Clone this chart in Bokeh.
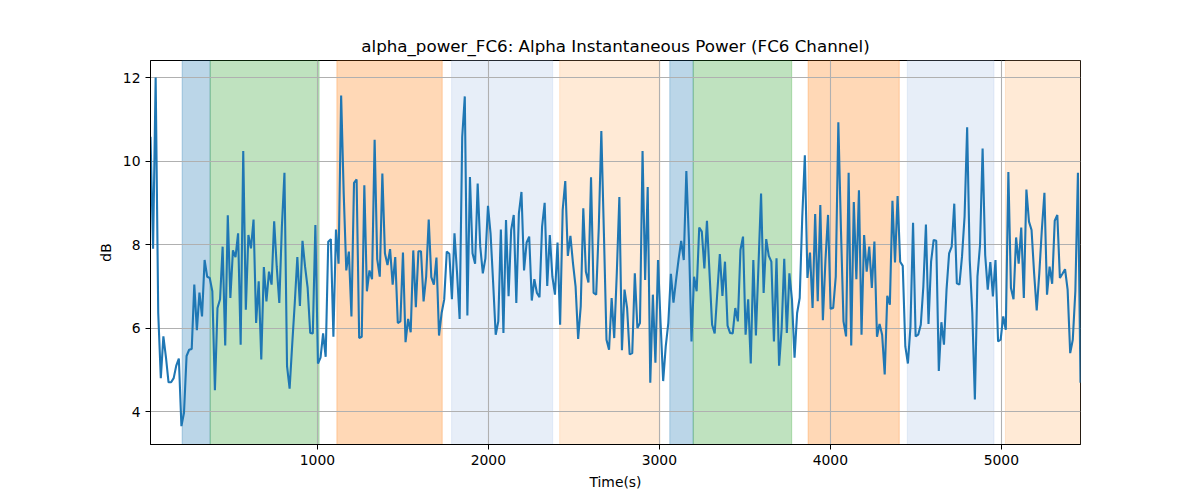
from bokeh.plotting import figure
from bokeh.models import BoxAnnotation, Range1d, ColumnDataSource, FixedTicker
from bokeh.embed import file_html
from bokeh.resources import INLINE
import numpy as np

# ---------------- data ----------------
t_first = 24.0
t_last = 5463.0

power_db = [
    10.58, 7.9, 12.0, 6.36, 4.8, 5.8, 5.3, 4.7, 4.7, 4.8, 5.1, 5.27, 3.65, 3.97, 5.33, 5.48, 5.5, 7.04, 5.95, 6.85,
    6.28, 7.63, 7.23, 7.2, 6.88, 4.51, 6.48, 6.69, 7.95, 5.58, 8.7, 6.72, 7.86, 7.7, 8.27, 5.6, 10.24, 6.44, 8.23, 7.91,
    8.6, 6.12, 7.12, 5.25, 7.46,
    6.64, 7.35, 7.04, 8.56, 7.47, 6.6, 8.43, 9.72, 5.09, 4.55, 5.6, 6.6, 7.7, 6.53, 8.09, 7.47, 6.96, 5.88, 5.87, 8.47,
    5.15, 5.29, 5.87, 5.31, 8.07, 8.13, 5.79, 8.36, 7.54, 11.57, 9.22, 7.38, 7.83, 6.28, 9.48, 9.56, 5.76, 5.79, 9.42,
    6.88, 7.38, 7.17, 10.51, 7.65, 7.23, 9.7, 7.79, 7.51,
    7.89, 7.04, 7.7, 6.12, 6.16, 7.81, 5.66, 6.22, 5.9, 7.86, 6.5, 7.84, 7.84, 6.64, 7.23, 8.6, 7.22, 7.04, 7.69, 5.82,
    6.36, 6.68, 7.83, 7.78, 6.69, 8.27, 7.31, 6.22, 10.58, 11.55, 6.3, 9.62, 7.79, 7.54, 9.46, 7.95, 7.31, 7.67, 8.93,
    8.27, 7.09, 5.84, 6.16, 8.36, 5.88, 8.59,
    6.76, 8.35, 8.71, 6.6, 8.75, 9.26, 7.38, 8.05, 8.19, 6.66, 7.17, 6.84, 6.74, 8.43, 9.0, 7.01, 8.23, 7.23, 6.8, 8.05,
    6.08, 8.83, 9.52, 7.73, 8.21, 7.55, 7.0, 5.74, 6.52, 8.87, 7.35, 7.09, 9.61, 6.84, 6.8, 8.39, 10.72, 8.27, 5.72,
    5.48, 6.72, 5.76, 7.31, 9.14, 5.47, 6.92, 6.48,
    5.37, 5.4, 7.31, 6.0, 6.12, 10.24, 7.15, 9.38, 4.69, 6.8, 5.17, 7.63, 6.12, 4.73, 5.56, 6.12, 7.3, 6.61, 7.15, 7.65,
    8.09, 7.63, 9.76, 8.11, 5.68, 7.23, 6.88, 8.41, 8.31, 7.43, 8.57, 7.31, 6.08, 5.87, 6.84, 7.77, 6.77, 7.59, 6.06,
    5.88, 5.87, 6.48, 6.16, 7.87, 8.19,
    5.84, 6.69, 5.15, 7.63, 5.82, 7.5, 9.22, 6.84, 8.13, 7.73, 7.59, 5.68, 7.67, 5.1, 6.0, 7.66, 5.88, 7.31, 6.68, 5.29,
    6.36, 6.72, 8.67, 10.14, 7.2, 7.81, 6.48, 8.73, 6.64, 8.95, 6.19, 7.63, 8.71, 6.46, 6.48, 7.23, 10.93, 8.39, 6.16,
    5.8, 9.72, 5.58, 9.02, 7.17,
    9.3, 5.84, 8.23, 7.35, 7.95, 6.96, 8.07, 5.79, 6.1, 5.84, 4.89, 6.77, 6.56, 9.05, 7.57, 9.16, 7.59, 7.49, 5.56, 5.15,
    6.04, 8.52, 5.8, 5.84, 6.08, 7.0, 8.48, 6.1, 7.59, 8.11, 8.09, 4.97, 6.14, 5.6, 6.92, 7.79, 7.95, 8.98, 7.07, 7.04,
    7.71, 8.67, 10.81, 7.63, 6.36,
    4.29, 7.23, 7.99, 10.3, 7.75, 6.92, 7.58, 6.76, 7.63, 5.68, 5.72, 6.28, 5.96, 9.74, 6.96, 6.69, 8.17, 7.54, 8.41,
    6.72, 9.32, 8.55, 8.35, 7.31, 6.42, 7.31, 8.36, 9.24, 6.8, 7.47, 7.06, 8.57, 8.71, 7.2, 7.3, 7.41, 6.92, 5.4, 5.72,
    6.88, 9.72, 4.69,
]
time_s = np.linspace(t_first, t_last, len(power_db))

span_starts = [209, 373, 1114, 1785, 2417, 3061, 3198, 3870, 4450, 5024]
span_ends = [373, 1010, 1730, 2376, 3003, 3198, 3774, 4403, 4957, 5500]
span_colors = ["#1f77b4", "#2ca02c", "#ff7f0e", "#aec7e8", "#ffbb78",
               "#1f77b4", "#2ca02c", "#ff7f0e", "#aec7e8", "#ffbb78"]

x_ticks = [1000, 2000, 3000, 4000, 5000]
y_ticks = [4, 6, 8, 10, 12]

title_text = "alpha_power_FC6: Alpha Instantaneous Power (FC6 Channel)"
x_label = "Time(s)"
y_label = "dB"

# ---------------- figure ----------------
FONT = "DejaVu Sans"
p = figure(width=1192, height=492, output_backend="svg", toolbar_location=None,
           x_range=Range1d(t_first, t_last), y_range=Range1d(3.21, 12.41),
           min_border_left=150, min_border_right=112, min_border_top=60, min_border_bottom=47)
p.background_fill_color = "white"
p.border_fill_color = "white"
p.outline_line_color = "black"
p.outline_line_width = 1

for s, e, c in zip(span_starts, span_ends, span_colors):
    p.add_layout(BoxAnnotation(left=s, right=e, fill_color=c, fill_alpha=0.3,
                               line_color=c, line_alpha=0.3, line_width=1, level="image"))

src = ColumnDataSource(dict(t=time_s, v=power_db))
p.line("t", "v", source=src, line_color="#1f77b4", line_width=2.1)

p.title.text = title_text
p.title.text_font = FONT
p.title.text_font_size = "16.7px"
p.title.text_font_style = "normal"
p.title.align = "center"
p.title.text_color = "black"

p.xaxis.ticker = FixedTicker(ticks=x_ticks)
p.yaxis.ticker = FixedTicker(ticks=y_ticks)
p.xaxis.axis_label = x_label
p.yaxis.axis_label = y_label
for ax in (p.xaxis[0], p.yaxis[0]):
    ax.axis_label_text_font = FONT
    ax.axis_label_text_font_size = "13.9px"
    ax.axis_label_text_font_style = "normal"
    ax.axis_label_text_color = "black"
    ax.major_label_text_font = FONT
    ax.major_label_text_font_size = "13.9px"
    ax.major_label_text_color = "black"
    ax.minor_tick_line_color = None
    ax.major_tick_in = 0
    ax.major_tick_out = 5
    ax.major_tick_line_color = "black"
    ax.axis_line_color = "black"
    ax.major_label_standoff = 5
    ax.axis_label_standoff = 6

p.grid.grid_line_color = "#b0b0b0"
p.grid.grid_line_width = 1.1

open("out.html", "w").write(file_html(p, INLINE))
